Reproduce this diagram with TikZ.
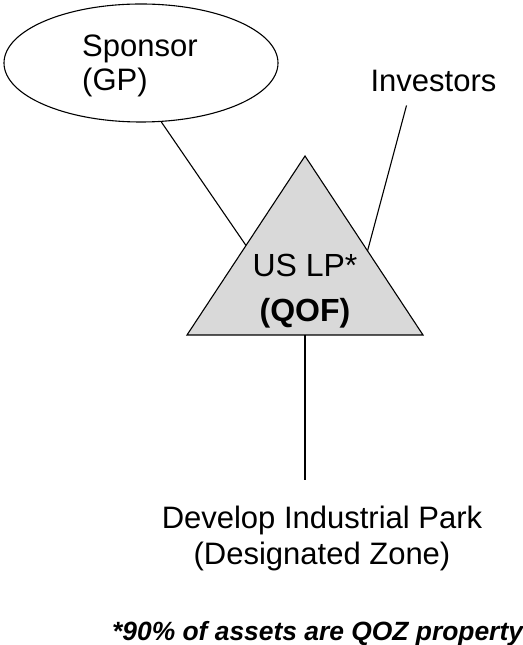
\documentclass[tikz,border=0pt]{standalone}
\usepackage{fontspec}
\setmainfont{Liberation Sans}
\usepackage{xcolor}
\usetikzlibrary{calc, positioning, shapes.geometric}
\definecolor{qofgray}{RGB}{217, 217, 217}

\begin{document}
\begin{tikzpicture}[
        x=1pt, y=1pt,
        party/.style={ellipse, draw=black, line width=1.1pt, minimum width=274pt, minimum height=118pt},
        label/.style={inner sep=0pt, font=\fontsize{31}{36}\selectfont},
        fund/.style={draw=black, line width=1.1pt, fill=qofgray},
        link/.style={draw=black, line width=1.1pt}
    ]
        \useasboundingbox (0,0) rectangle (522,645);
        \node[party] (sponsor) at (141,582) {};
        \node[label, align=left, anchor=north west, font=\fontsize{31}{34}\selectfont] (sponsortext) at (82,610) {Sponsor\\(GP)};
        \node[label, anchor=base] (investors) at (433.5,553) {Investors};
        \coordinate (apex) at (305,489);
        \coordinate (bl) at (187,310);
        \coordinate (br) at (423,310);
        \filldraw[fund] (apex) -- (bl) -- (br) -- cycle;
        \coordinate (qofL) at ($(apex)!0.5!(bl)$);
        \coordinate (qofR) at ($(apex)!0.53!(br)$);
        \coordinate (qofB) at ($(bl)!0.5!(br)$);
        \node[inner sep=0pt, align=center, anchor=north, font=\fontsize{32}{45}\selectfont] (qof) at (305,391) {US LP*\\\textbf{(QOF)}};
        \node[label, align=center, anchor=north] (park) at (322,139) {Develop Industrial Park\\(Designated Zone)};
        \node[inner sep=0pt, anchor=base west, font=\fontsize{26.4}{30}\selectfont\bfseries\itshape] (note) at (112,5) {*90\% of assets are QOZ property};
        \draw[link] (sponsor.-71) -- (qofL);
        \draw[link] ([xshift=-27pt, yshift=-13pt]investors.south) -- (qofR);
        \draw[link] (qofB) -- (qofB |- 0,165);
    \end{tikzpicture}
\end{document}
